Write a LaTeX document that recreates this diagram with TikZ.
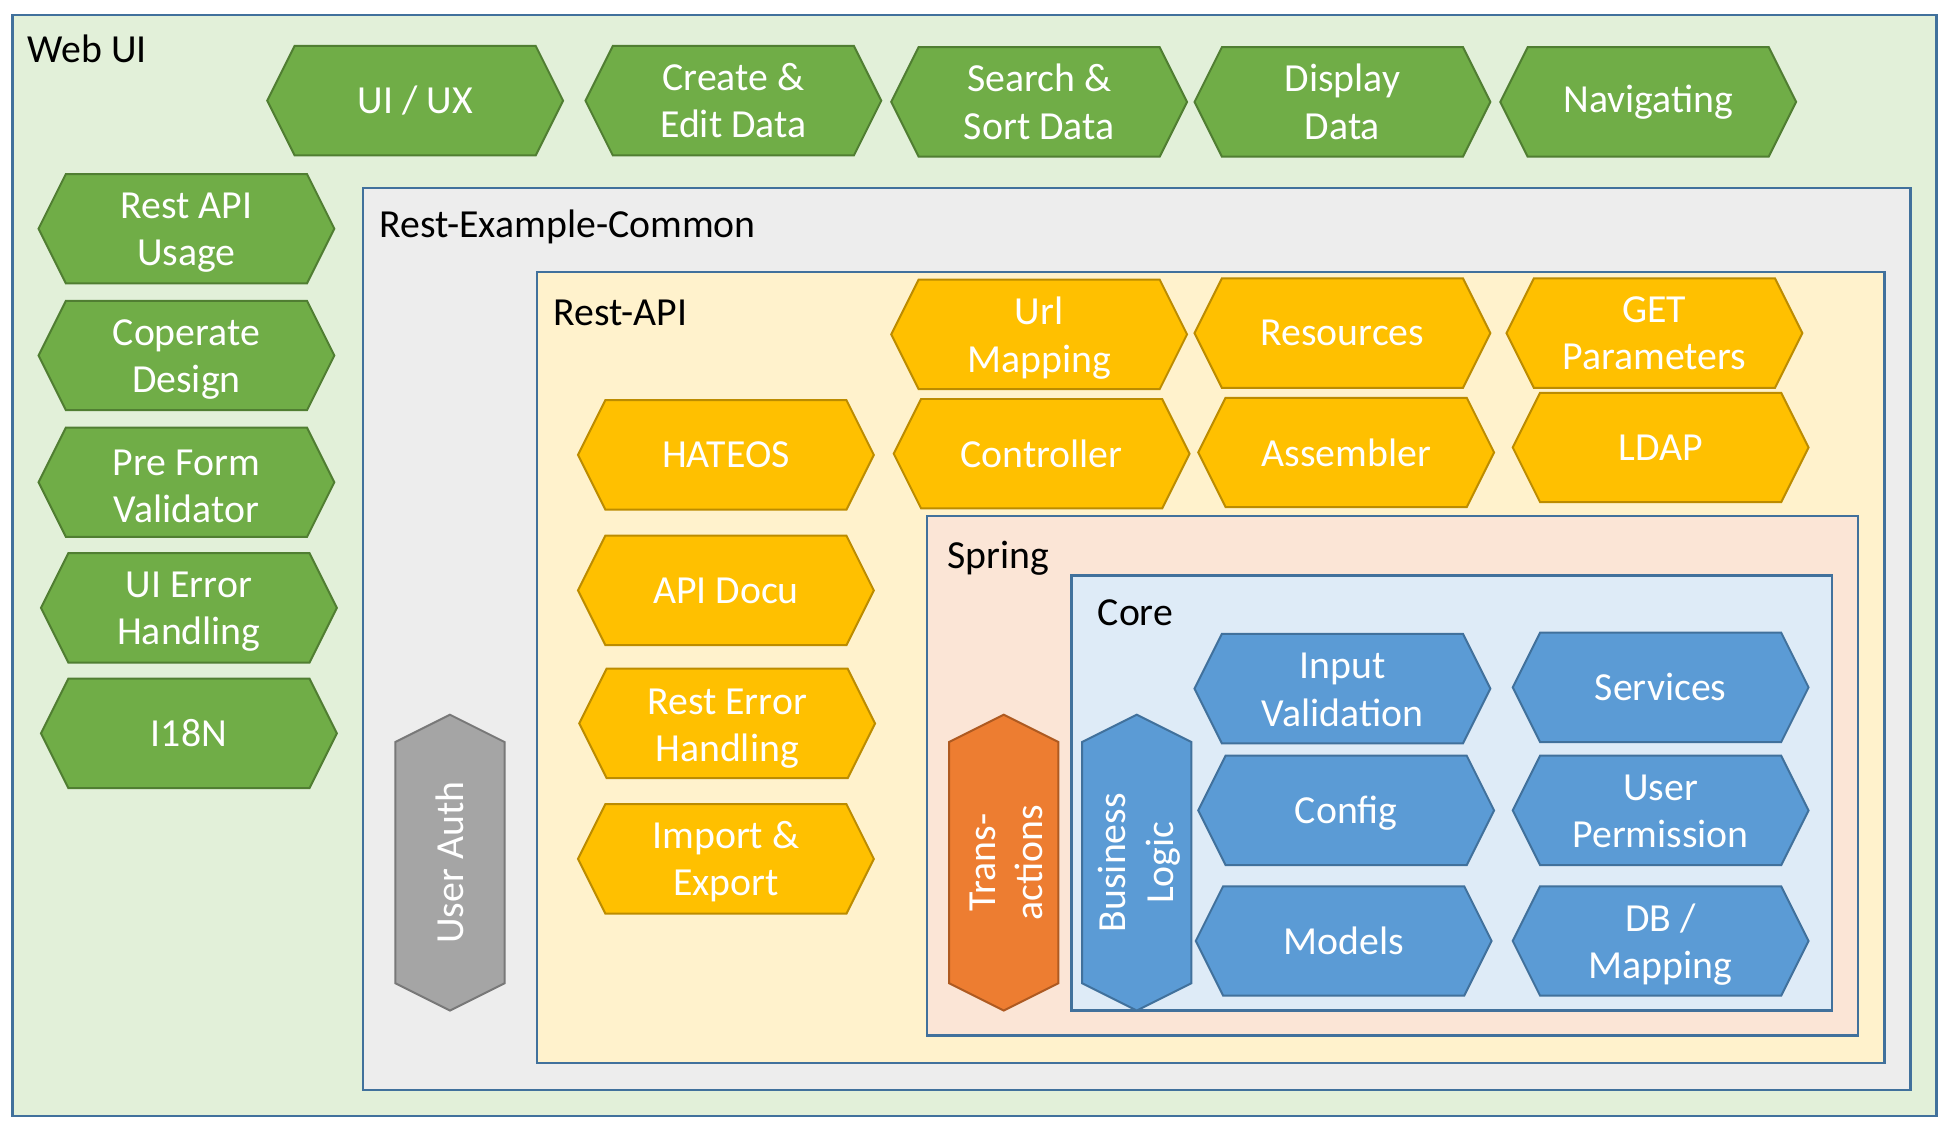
\documentclass[tikz,border=0pt]{standalone}
\usepackage{fontspec}
\setmainfont{Carlito}
\definecolor{boxline}{HTML}{41719C}
\definecolor{webfill}{HTML}{E2F0D9}
\definecolor{commonfill}{HTML}{EDEDED}
\definecolor{apifill}{HTML}{FFF2CC}
\definecolor{springfill}{HTML}{FBE5D6}
\definecolor{corefill}{HTML}{DEEBF7}
\definecolor{gfill}{HTML}{70AD47}
\definecolor{gline}{HTML}{507E32}
\definecolor{ofill}{HTML}{FFC000}
\definecolor{oline}{HTML}{BC8C00}
\definecolor{bfill}{HTML}{5B9BD5}
\definecolor{bline}{HTML}{41719C}
\definecolor{grfill}{HTML}{A5A5A5}
\definecolor{grline}{HTML}{787878}
\definecolor{rfill}{HTML}{ED7D31}
\definecolor{rline}{HTML}{AE5A21}
\tikzset{
  box/.style={draw=boxline, line width=1.8pt},
  boxlabel/.style={anchor=base west, inner sep=0pt, text=black, font=\fontsize{32}{38}\selectfont},
  hexline/.style={line width=1.6pt, line join=miter},
  hgreen/.style={fill=gfill, draw=gline},
  horange/.style={fill=ofill, draw=oline},
  hblue/.style={fill=bfill, draw=bline},
  hgray/.style={fill=grfill, draw=grline},
  hred/.style={fill=rfill, draw=rline},
  hextext/.style={text=white, align=center, inner sep=0pt, font=\fontsize{32}{38}\selectfont},
}
% horizontal hexagon: name, cx, cy, colour style, text, text offset (down)
\newcommand\hexH[6]{%
  \path[hexline,#4] ({#2-119},#3) -- ({#2-97},{#3-44}) -- ({#2+97},{#3-44}) -- ({#2+119},#3) -- ({#2+97},{#3+44}) -- ({#2-97},{#3+44}) -- cycle;
  \node[hextext] (#1) at (#2,{#3+#6}) {#5};}
% vertical hexagon: name, cx, cy, colour style, text, text offset (right)
\newcommand\hexV[6]{%
  \path[hexline,#4] (#2,{#3-119}) -- ({#2+44},{#3-97}) -- ({#2+44},{#3+97}) -- (#2,{#3+119}) -- ({#2-44},{#3+97}) -- ({#2-44},{#3-97}) -- cycle;
  \node[hextext, rotate=90] (#1) at ({#2+#6},#3) {#5};}
\begin{document}
\begin{tikzpicture}[x=1pt, y=-1pt]
\useasboundingbox (0,0) rectangle (1568,904.3);
\fill[white] (0,0) rectangle (1568,904.3);
% containers
\draw[box, fill=webfill] (10,12) rectangle (1558,898);
\node[boxlabel] (webui) at (22,50) {Web UI};
\draw[box, fill=commonfill] (292,151) rectangle (1537,877);
\node[boxlabel] (common) at (305,191) {Rest-Example-Common};
\draw[box, fill=apifill] (432,219) rectangle (1516,855);
\node[boxlabel] (restapi) at (445,262) {Rest-API};
\draw[box, fill=springfill] (746,415) rectangle (1495,833);
\node[boxlabel] (spring) at (762,457) {Spring};
\draw[box, fill=corefill] (862,463) rectangle (1474,813);
\node[boxlabel] (core) at (883,503) {Core};
% Web UI top row
\hexH{uiux}{334}{81}{hgreen}{UI / UX}{0}
\hexH{create}{590}{81}{hgreen}{Create \&\\Edit Data}{0}
\hexH{search}{836}{82}{hgreen}{Search \&\\Sort Data}{0}
\hexH{display}{1080}{82}{hgreen}{Display\\Data}{0}
\hexH{navigating}{1326}{82}{hgreen}{Navigating}{0}
% Web UI left column
\hexH{restusage}{150}{184}{hgreen}{Rest API\\Usage}{3}
\hexH{coperate}{150}{286}{hgreen}{Coperate\\Design}{3}
\hexH{preform}{150}{388}{hgreen}{Pre Form\\Validator}{3}
\hexH{uierror}{152}{489}{hgreen}{UI Error\\Handling}{3}
\hexH{i18n}{152}{590}{hgreen}{I18N}{0}
% Rest-API
\hexH{urlmap}{836}{269}{horange}{Url\\Mapping}{3}
\hexH{resources}{1080}{268}{horange}{Resources}{0}
\hexH{getparams}{1331}{268}{horange}{GET\\Parameters}{0}
\hexH{hateos}{584}{366}{horange}{HATEOS}{0}
\hexH{controller}{838}{365}{horange}{Controller}{0}
\hexH{assembler}{1083}{364}{horange}{Assembler}{0}
\hexH{ldap}{1336}{360}{horange}{LDAP}{0}
\hexH{apidocu}{584}{475}{horange}{API Docu}{0}
\hexH{resterror}{585}{582}{horange}{Rest Error\\Handling}{4}
\hexH{import}{584}{691}{horange}{Import \&\\Export}{2}
% Core
\hexH{inputval}{1080}{554}{hblue}{Input\\Validation}{1}
\hexH{services}{1336}{553}{hblue}{Services}{0}
\hexH{config}{1083}{652}{hblue}{Config}{2}
\hexH{userperm}{1336}{652}{hblue}{User\\Permission}{1}
\hexH{models}{1081}{757}{hblue}{Models}{0}
\hexH{dbmap}{1336}{757}{hblue}{DB /\\Mapping}{3}
% vertical hexagons
\hexV{userauth}{362}{694}{hgray}{User Auth}{0}
\hexV{transactions}{807.5}{694}{hred}{Trans-\\actions}{2}
\hexV{business}{914.5}{694}{hblue}{Business\\Logic}{2}
\end{tikzpicture}
\end{document}
